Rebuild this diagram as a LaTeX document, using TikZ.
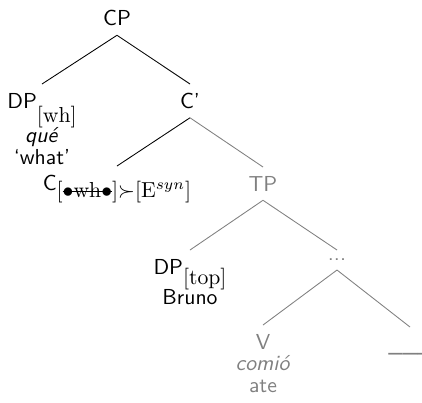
\documentclass[tikz,border=0pt]{standalone}
\usepackage{amsmath}
\newcommand{\treefont}{\sffamily\fontsize{10}{10}\selectfont\setlength{\lineskip}{0pt}}
\tikzset{
 lbl/.style={font=\treefont,inner xsep=0pt,inner ysep=4pt,anchor=north,align=center},
 faded/.style={text=gray},
 branch/.style={line width=.4pt},
 fadedbranch/.style={draw=gray,line width=.4pt}
}
% lowered full-size feature bracket after a category label
\newcommand{\feat}[2][5pt]{\raisebox{-#1}{$#2$}}
\newcommand{\struck}[1]{\setbox0\hbox{#1}\rlap{\raisebox{2.5pt}{\rule{\wd0}{.4pt}}}\box0}

\begin{document}
\begin{tikzpicture}[x=0.461pt,y=-0.461pt]
\path[use as bounding box] (0,0) rectangle (422,402);
\node[lbl] (CP) at (117,1.5) {CP};
\node[lbl] (DPwh) at (42,84) {DP\feat[6.5pt]{\mathrm{[wh]}}\\\textit{qué}\\`what'};
\node[lbl] (Cbar) at (190,84) {C'};
\node[lbl] (C) at (117,166) {C\feat[3.3pt]{[\struck{$\bullet\mathrm{wh}\bullet$}]{\succ}[\mathrm{E}^{syn}]}};
\node[lbl,faded] (TP) at (263,167) {TP};
\node[lbl] (DPtop) at (190,250) {DP\feat[4.6pt]{\mathrm{[top]}}\\Bruno};
\node[lbl,faded] (dots) at (337,250) {...};
\node[lbl,faded] (V) at (263,325) {V\\\textit{comió}\\ate};
\node[lbl,faded] (gap) at (410,327) {\vphantom{V}\_\_\_};
\draw[branch] (CP.south) -- (DPwh.north);
\draw[branch] (CP.south) -- (Cbar.north);
\draw[branch] (Cbar.south) -- (C.north);
\draw[fadedbranch] (Cbar.south) -- (TP.north);
\draw[fadedbranch] (TP.south) -- (DPtop.north);
\draw[fadedbranch] (TP.south) -- (dots.north);
\draw[fadedbranch] (dots.south) -- (V.north);
\draw[fadedbranch] (dots.south) -- (gap.north);
\end{tikzpicture}
\end{document}
